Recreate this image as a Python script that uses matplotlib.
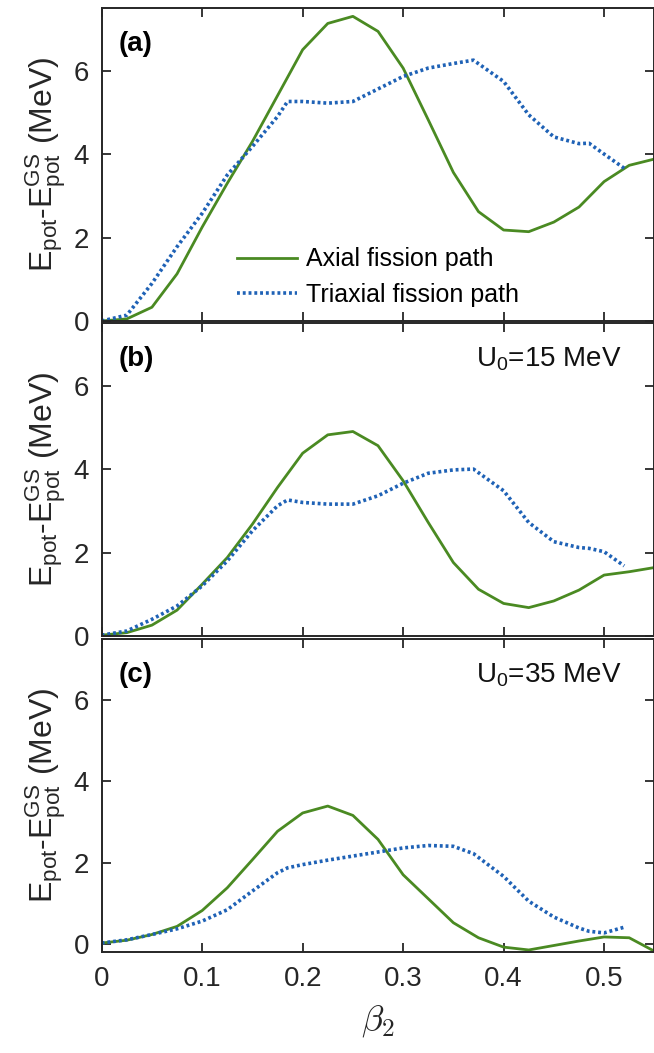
import matplotlib
matplotlib.use("Agg")
import matplotlib.pyplot as plt

plt.rcParams['font.family'] = ['Liberation Sans', 'DejaVu Sans']
plt.rcParams['mathtext.fontset'] = 'custom'
plt.rcParams['mathtext.rm'] = 'Liberation Sans'
plt.rcParams['mathtext.it'] = 'Liberation Sans:italic'
plt.rcParams['mathtext.bf'] = 'Liberation Sans:bold'
plt.rcParams['mathtext.default'] = 'regular'

# deformation grid of the two paths
beta_axial = [0, 0.025, 0.05, 0.075, 0.1, 0.125, 0.15, 0.175, 0.2, 0.225, 0.25,
              0.275, 0.3, 0.325, 0.35, 0.375, 0.4, 0.425, 0.45, 0.475, 0.5,
              0.525, 0.55]
beta_triax = [0, 0.025, 0.05, 0.075, 0.1, 0.125, 0.15, 0.175, 0.185, 0.2, 0.225,
              0.25, 0.275, 0.3, 0.325, 0.35, 0.37, 0.4, 0.425, 0.45, 0.475,
              0.485, 0.5, 0.52]

# (a) no pairing term
axial_a = [0, 0.05, 0.33, 1.13, 2.25, 3.3, 4.3, 5.4, 6.5, 7.13, 7.3, 6.94, 6.06,
           4.82, 3.56, 2.62, 2.18, 2.14, 2.37, 2.73, 3.34, 3.73, 3.88]
triax_a = [0, 0.14, 0.9, 1.78, 2.58, 3.5, 4.18, 4.9, 5.26, 5.26, 5.22, 5.26, 5.56,
           5.86, 6.06, 6.17, 6.25, 5.74, 4.94, 4.41, 4.25, 4.26, 4.0, 3.66]

# (b) U0 = 15 MeV
axial_b = [0.02, 0.08, 0.26, 0.62, 1.24, 1.88, 2.68, 3.56, 4.38, 4.82, 4.9, 4.56,
           3.72, 2.72, 1.76, 1.12, 0.78, 0.68, 0.84, 1.1, 1.46, 1.54, 1.64]
triax_b = [0.02, 0.12, 0.4, 0.72, 1.2, 1.8, 2.52, 3.12, 3.26, 3.2, 3.16, 3.16,
           3.36, 3.66, 3.9, 3.98, 4.0, 3.48, 2.72, 2.26, 2.12, 2.1, 2.02, 1.68]

# (c) U0 = 35 MeV
axial_c = [0.02, 0.09, 0.23, 0.43, 0.82, 1.38, 2.07, 2.77, 3.22, 3.39, 3.16, 2.57,
           1.7, 1.11, 0.52, 0.15, -0.08, -0.15, -0.04, 0.07, 0.17, 0.15, -0.18]
triax_c = [0.02, 0.1, 0.23, 0.37, 0.56, 0.84, 1.3, 1.75, 1.87, 1.95, 2.06, 2.16,
           2.26, 2.36, 2.42, 2.4, 2.22, 1.66, 1.05, 0.66, 0.39, 0.31, 0.27, 0.41]

panel_tags = ['(a)', '(b)', '(c)']
u0_labels = [None, 'U$_0$=15 MeV', 'U$_0$=35 MeV']
ylows = [0, 0, -0.2]

green = '#4a8a22'
blue = '#1f62b6'
axcol = '#262626'

fig = plt.figure(figsize=(6.54, 10.53), dpi=100)
rects = [
    [0.1555, 0.69516, 0.8450, 0.29725],
    [0.1555, 0.39601, 0.8450, 0.29725],
    [0.1555, 0.09592, 0.8450, 0.29725],
]
series = [(axial_a, triax_a), (axial_b, triax_b), (axial_c, triax_c)]

for i, rect in enumerate(rects):
    ax = fig.add_axes(rect)
    ya, yt = series[i]
    ax.plot(beta_axial, ya, color=green, lw=2.0, label='Axial fission path')
    ax.plot(beta_triax, yt, color=blue, lw=2.6, ls=(0, (0.8, 0.8)),
            label='Triaxial fission path')
    ax.set_xlim(0, 0.55)
    ax.set_ylim(ylows[i], 7.5)
    ax.set_xticks([0, 0.1, 0.2, 0.3, 0.4, 0.5])
    ax.set_yticks([0, 2, 4, 6])
    ax.tick_params(direction='in', top=True, right=True, length=6.5, width=1.3,
                   labelsize=20, colors=axcol)
    ax.tick_params(axis='x', pad=10)
    ax.tick_params(axis='y', pad=9)
    for sp in ax.spines.values():
        sp.set_linewidth(1.4)
        sp.set_color(axcol)
    if i < 2:
        ax.set_xticklabels([])
    else:
        ax.set_xticklabels(['0', '0.1', '0.2', '0.3', '0.4', '0.5'])
        ax.set_xlabel(r'$\mathit{\beta}_{\mathsf{2}}$', fontsize=26,
                      math_fontfamily='cm', color=axcol, labelpad=8)
    ax.set_ylabel(r'E$_{pot}$-E$_{pot}^{GS}$ (MeV)', fontsize=23, color=axcol,
                  labelpad=4)
    ax.text(0.03, 0.885, panel_tags[i], transform=ax.transAxes, fontsize=20,
            fontweight='bold', va='center', ha='left')
    if u0_labels[i]:
        ax.text(0.94, 0.885, u0_labels[i], transform=ax.transAxes, fontsize=20,
                va='center', ha='right', color='#111111')
    if i == 0:
        ax.legend(loc='upper left', bbox_to_anchor=(0.245, 0.235), frameon=False,
                  fontsize=18, handlelength=2.4, handletextpad=0.35,
                  borderpad=0, borderaxespad=0, labelspacing=0.45)

fig.savefig('out.png', dpi=100)
